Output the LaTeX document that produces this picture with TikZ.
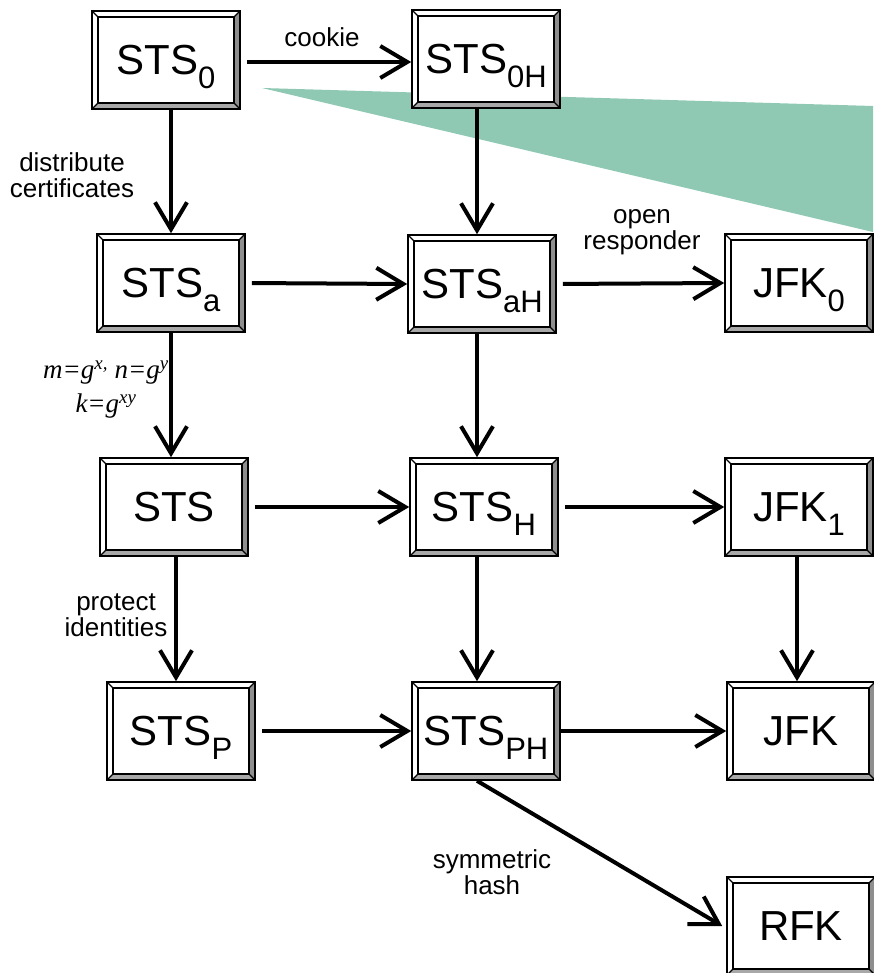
\documentclass[tikz,border=0pt]{standalone}
\usepackage{fontspec}
\setmainfont{Liberation Sans}
\newfontfamily\eqfont{Liberation Serif}
\usetikzlibrary{arrows.meta,calc}

\definecolor{callout}{HTML}{8FC9B3}
\definecolor{bevelR}{HTML}{8E8E8E}
\definecolor{bevelB}{HTML}{A8A8A8}

% protocol name with a lowered subscript that does not shift the centring
\newcommand{\proto}[2]{#1\smash{\raisebox{-14pt}{\fontsize{31}{33}\selectfont #2}}}

\tikzset{
  bevelbox/.style={
    draw=black, line width=1.6pt, fill=white,
    minimum width=148pt, minimum height=98pt, inner sep=0pt,
    font=\fontsize{42}{44}\selectfont,
    path picture={
      \path (path picture bounding box.north west) coordinate (bNW)
            (path picture bounding box.north east) coordinate (bNE)
            (path picture bounding box.south east) coordinate (bSE)
            (path picture bounding box.south west) coordinate (bSW);
      \path ($(bNW)+(6pt,-6pt)$) coordinate (iNW)
            ($(bNE)+(-6pt,-6pt)$) coordinate (iNE)
            ($(bSE)+(-6pt,6pt)$) coordinate (iSE)
            ($(bSW)+(6pt,6pt)$) coordinate (iSW);
      \fill[bevelR] (bNE) -- (bSE) -- (iSE) -- (iNE) -- cycle;
      \fill[bevelB] (bSW) -- (bSE) -- (iSE) -- (iSW) -- cycle;
      \draw[line width=1.3pt] (iNW) rectangle (iSE);
      \draw[line width=1.3pt] (bNW) -- (iNW) (bNE) -- (iNE)
                              (bSE) -- (iSE) (bSW) -- (iSW);
    }
  },
  arr/.style={line width=4pt, -{Straight Barb[length=27pt,width=32pt]}},
  harr/.style={arr, shorten <=6pt},
  lbl/.style={font=\fontsize{26}{26}\selectfont, align=center, inner sep=0pt},
}

\begin{document}
\begin{tikzpicture}[x=1pt,y=-1pt]
\useasboundingbox (0,0) rectangle (873,973);

% callout wedge
\fill[callout] (262,88) -- (873,106) -- (873,232) -- cycle;

% protocol boxes
\node[bevelbox] (s0)   at (166,60)  {\proto{STS}{0}};
\node[bevelbox] (s0h)  at (486,59)  {\proto{STS}{0H}};
\node[bevelbox] (sa)   at (171,283) {\proto{STS}{a}};
\node[bevelbox] (sah)  at (482,284) {\proto{STS}{aH}};
\node[bevelbox] (jfk0) at (799,283) {\proto{JFK}{0}};
\node[bevelbox] (sts)  at (174,507) {STS};
\node[bevelbox] (sh)   at (484,507) {\proto{STS}{H}};
\node[bevelbox] (jfk1) at (799,507) {\proto{JFK}{1}};
\node[bevelbox] (sp)   at (181,731) {\proto{STS}{P}};
\node[bevelbox] (sph)  at (486,731) {\proto{STS}{PH}};
\node[bevelbox] (jfk)  at (801,731) {JFK};
\node[bevelbox] (rfk)  at (801,926) {RFK};

% horizontal steps
\draw[harr] (s0.east |- 0,62) -- (s0h.west |- 0,62);
\draw[harr] (sa.east) -- (sah.west);
\draw[harr] (sah.east) -- (jfk0.west);
\draw[harr] (sts.east) -- (sh.west);
\draw[harr] (sh.east) -- (jfk1.west);
\draw[harr] (sp.east) -- (sph.west);
\draw[arr]  (sph.east) -- (jfk.west);

% vertical steps
\draw[arr] (s0.south -| sa.north) -- (sa.north);
\draw[arr] (sa.south) -- (sa.south |- sts.north);
\draw[arr] ([xshift=2pt]sts.south) -- ([xshift=2pt]sts.south |- sp.north);
\draw[arr] ([xshift=-9pt]s0h.south) -- ([xshift=-9pt]s0h.south |- sah.north);
\draw[arr] ([xshift=-5pt]sah.south) -- ([xshift=-5pt]sah.south |- sh.north);
\draw[arr] ([xshift=-7pt]sh.south) -- ([xshift=-7pt]sh.south |- sph.north);
\draw[arr] ([xshift=-2pt]jfk1.south) -- ([xshift=-2pt]jfk1.south |- jfk.north);

% diagonal step
\draw[arr] ([xshift=-9pt]sph.south) -- ([xshift=-4pt]rfk.west);

% step labels
\node[lbl] (lcookie) at (322,37) {cookie};
\node[lbl] (ldist) at (72,175) {distribute\\certificates};
\node[lbl, font=\eqfont\itshape\fontsize{27}{34}\selectfont] (ldh) at (106,390)
  {m=g\textsuperscript{x,} n=g\textsuperscript{y}\\k=g\textsuperscript{xy}};
\node[lbl] (lprot) at (116,615) {protect\\identities};
\node[lbl] (lopen) at (642,232) {open\\responder};
\node[lbl] (lsym) at (492,872) {symmetric\\hash};
\end{tikzpicture}
\end{document}
